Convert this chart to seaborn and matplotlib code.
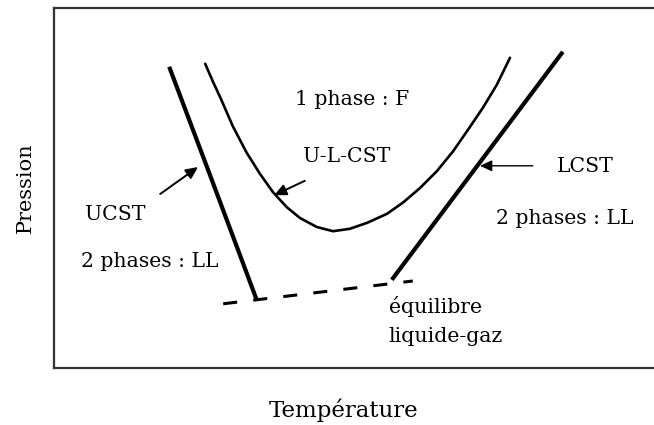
import matplotlib
matplotlib.use("Agg")
import matplotlib.pyplot as plt
import seaborn as sns

# schematic phase diagram: temperature (0-100) vs pressure (0-60), arbitrary units
ucst_T = [19.2, 25.5, 31.0, 33.8]
ucst_P = [50.2, 33.5, 18.8, 11.3]

ulcst_T = [25.2, 26.5, 27.8, 29.8, 32.1, 34.3, 36.5, 38.8, 41.0, 43.8, 46.5,
           49.3, 52.2, 55.5, 58.2, 61.0, 63.8, 66.5, 69.2, 71.5, 73.8, 76.0]
ulcst_P = [50.7, 47.7, 44.9, 40.3, 35.9, 32.4, 29.3, 26.8, 25.0, 23.5, 22.8,
           23.2, 24.2, 25.7, 27.6, 30.0, 32.8, 36.1, 40.0, 43.4, 47.2, 51.7]

lcst_T = [84.8, 56.3]
lcst_P = [52.7, 14.7]

lg_T = [28.2, 59.8]
lg_P = [10.7, 14.5]

sns.set_theme(style="white")
plt.rcParams["font.family"] = ["DejaVu Serif"]
plt.rcParams["text.color"] = "black"

fig = plt.figure(figsize=(6.54, 4.25), dpi=100)
ax = fig.add_axes([54 / 654, 57 / 425, 600 / 654, 360 / 425])

sns.lineplot(x=ucst_T, y=ucst_P, sort=False, color="black", linewidth=3.0,
             solid_capstyle="butt", ax=ax)
sns.lineplot(x=ulcst_T, y=ulcst_P, sort=False, color="black", linewidth=1.9,
             solid_joinstyle="round", ax=ax)
sns.lineplot(x=lcst_T, y=lcst_P, sort=False, color="black", linewidth=3.0,
             solid_capstyle="butt", ax=ax)
sns.lineplot(x=lg_T, y=lg_P, sort=False, color="black", linewidth=2.2, ax=ax)
ax.lines[-1].set_dashes((4.6, 5.3))
ax.lines[-1].set_dash_capstyle("butt")

ax.set_xlim(0, 100)
ax.set_ylim(0, 60)
ax.set_xticks([])
ax.set_yticks([])
for side in ["left", "top", "bottom"]:
    ax.spines[side].set_color("#333333")
    ax.spines[side].set_linewidth(1.6)
ax.spines["right"].set_visible(False)

fs = 14.7
ax.text(49.7, 44.7, "1 phase : F", ha="center", va="center", fontsize=fs)
ax.text(48.8, 35.2, "U-L-CST", ha="center", va="center", fontsize=fs)
ax.text(83.8, 33.5, "LCST", ha="left", va="center", fontsize=fs)
ax.text(73.7, 25.0, "2 phases : LL", ha="left", va="center", fontsize=fs)
ax.text(5.2, 25.5, "UCST", ha="left", va="center", fontsize=fs)
ax.text(4.5, 17.7, "2 phases : LL", ha="left", va="center", fontsize=fs)
ax.text(55.8, 10.2, "équilibre", ha="left", va="center", fontsize=fs)
ax.text(55.8, 5.2, "liquide-gaz", ha="left", va="center", fontsize=fs)

arrow = dict(arrowstyle="-|>,head_length=0.6,head_width=0.28", color="black",
             lw=1.4, shrinkA=0, shrinkB=0)
ax.annotate("", xy=(24.0, 33.5), xytext=(17.7, 29.0), arrowprops=arrow)
ax.annotate("", xy=(36.7, 28.8), xytext=(41.8, 31.2), arrowprops=arrow)
ax.annotate("", xy=(71.0, 33.7), xytext=(79.8, 33.7),
            arrowprops=dict(arrow, lw=1.0))

ax.set_xlabel("Température", fontsize=16.5, color="black")
ax.set_ylabel("Pression", fontsize=15, color="black")
ax.xaxis.set_label_coords(0.483, -0.117)
ax.yaxis.set_label_coords(-0.048, 0.5)
ax.xaxis.label.set_va("center")
ax.yaxis.label.set_va("center")

fig.savefig("out.png", dpi=100)
